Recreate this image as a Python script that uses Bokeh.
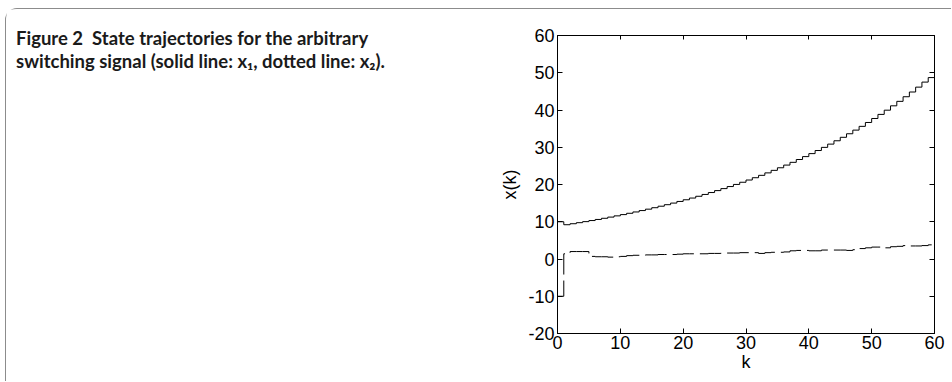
from bokeh.plotting import figure
from bokeh.models import LinearAxis, FixedTicker, Range1d
from bokeh.core.properties import value
from bokeh.layouts import row
from bokeh.embed import file_html
from bokeh.resources import INLINE

# ---- data ----
k = list(range(61))
x1 = [10.0, 9.2, 9.47, 9.75, 10.03, 10.32, 10.62, 10.93, 11.25, 11.58,
      11.92, 12.27, 12.63, 13.0, 13.38, 13.77, 14.17, 14.58, 15.01, 15.45,
      15.9, 16.36, 16.84, 17.33, 17.84, 18.36, 18.9, 19.45, 20.02, 20.6,
      21.2, 21.82, 22.46, 23.12, 23.8, 24.49, 25.21, 25.95, 26.71, 27.49,
      28.29, 29.12, 29.97, 30.84, 31.74, 32.67, 33.62, 34.6, 35.61, 36.65,
      37.72, 38.82, 39.95, 41.12, 42.32, 43.56, 44.83, 46.14, 47.49, 48.7,
      49.9]
x2 = [-10.0, 1.4, 2.0, 2.0, 2.0, 0.7, 0.6, 0.6, 0.5, 0.6,
      0.7, 0.9, 1.0, 1.0, 1.1, 1.1, 1.2, 1.2, 1.2, 1.3,
      1.4, 1.4, 1.4, 1.4, 1.5, 1.5, 1.6, 1.6, 1.6, 1.7,
      1.7, 1.7, 1.5, 1.7, 1.8, 1.8, 1.9, 2.2, 2.3, 2.3,
      2.2, 2.2, 2.4, 2.4, 2.4, 2.4, 2.3, 2.5, 2.8, 3.0,
      3.2, 3.2, 3.0, 3.3, 3.4, 3.6, 3.5, 3.5, 3.6, 3.8,
      3.8]
x_ticks = [0, 10, 20, 30, 40, 50, 60]
y_ticks = [-20, -10, 0, 10, 20, 30, 40, 50, 60]
y_tick_labels = {-20: "-20", -10: "-10"}
caption_lines = ["Figure 2\u00a0 State trajectories for the arbitrary",
                 "switching signal (solid line: x\u2081, dotted line: x\u2082)."]
x_label = "k"
y_label = "x(k)"

TICK_FONT = "Liberation Sans"
TICK_SIZE = "18px"
H = 372
CAP_W = 470
PLOT_W = 475

# ---- caption panel (data units == pixels, y downwards) ----
cap = figure(width=CAP_W, height=H, x_range=Range1d(0, CAP_W), y_range=Range1d(H, 0),
             output_backend="svg", toolbar_location=None,
             min_border=0, outline_line_color=None)
if "frame_align" in cap.properties():
    cap.frame_align = False
cap.title_location = None
cap.axis.visible = False
cap.grid.visible = False
cap.text(x=[9.5, 9.5], y=[28.5, 51.5], text=caption_lines,
         text_align="left", text_baseline="alphabetic", text_font=value("Lato"),
         text_font_style="bold", text_font_size="18.5px", text_color="#1a1a1a")

# ---- plot panel ----
p = figure(width=PLOT_W, height=H, x_range=(0, 60), y_range=(-20, 60),
           output_backend="svg", toolbar_location=None,
           min_border_left=81, min_border_right=17,
           min_border_top=26, min_border_bottom=48)
if "frame_align" in p.properties():
    p.frame_align = False
p.title_location = None
p.grid.visible = False
p.outline_line_color = "black"

xt = FixedTicker(ticks=x_ticks)
yt = FixedTicker(ticks=y_ticks)
p.xaxis.ticker = xt
p.yaxis.ticker = yt
p.yaxis.major_label_overrides = y_tick_labels
for ax in (p.xaxis[0], p.yaxis[0]):
    ax.major_tick_in = 5
    ax.major_tick_out = 0
    ax.minor_tick_line_color = None
    ax.axis_line_color = "black"
    ax.major_tick_line_color = "black"
    ax.major_label_text_font = TICK_FONT
    ax.major_label_text_font_size = TICK_SIZE
    ax.major_label_text_color = "black"
    ax.axis_label_text_font = TICK_FONT
    ax.axis_label_text_font_size = TICK_SIZE
    ax.axis_label_text_font_style = "normal"
    ax.axis_label_text_color = "black"
p.xaxis.major_label_standoff = 2
p.yaxis.major_label_standoff = 3
p.xaxis.axis_label = x_label
p.xaxis.axis_label_standoff = 0
p.yaxis.axis_label = y_label
p.yaxis.axis_label_standoff = 5

top = LinearAxis(ticker=xt, major_label_text_font_size="1px", major_label_text_color=None,
                 major_tick_in=4, major_tick_out=0, minor_tick_line_color=None,
                 major_label_standoff=0)
right = LinearAxis(ticker=yt, major_label_text_font_size="1px", major_label_text_color=None,
                   major_tick_in=5, major_tick_out=0, minor_tick_line_color=None,
                   major_label_standoff=0)
p.add_layout(top, "above")
p.add_layout(right, "right")

p.step(k, x1, mode="after", line_color="black", line_width=1)
p.step(k, x2, mode="after", line_color="black", line_width=1, line_dash="22 6")

layout = row(cap, p)
layout.styles = {"margin-left": "5px", "margin-top": "8px",
                 "border-left": "1.5px solid #8c8c8c",
                 "border-top": "1.5px solid #8c8c8c",
                 "border-top-left-radius": "12px"}

open("out.html", "w").write(file_html(layout, INLINE))
